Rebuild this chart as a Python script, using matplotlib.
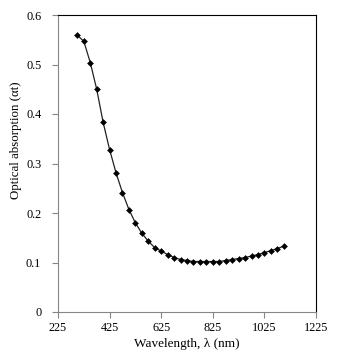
import matplotlib
matplotlib.use('Agg')
import matplotlib.pyplot as plt

# wavelength (nm) and optical absorption (alpha*t)
wavelength = [300, 325, 350, 375, 400, 425, 450, 475, 500, 525, 550, 575,
              600, 625, 650, 675, 700, 725, 750, 775, 800, 825, 850, 875,
              900, 925, 950, 975, 1000, 1025, 1050, 1075, 1100]
absorption = [0.559, 0.547, 0.504, 0.450, 0.383, 0.328, 0.281, 0.241,
              0.207, 0.180, 0.159, 0.143, 0.130, 0.123, 0.116, 0.110,
              0.106, 0.104, 0.102, 0.102, 0.102, 0.102, 0.102, 0.104,
              0.106, 0.108, 0.110, 0.113, 0.116, 0.120, 0.124, 0.128, 0.133]

x_ticks = [225, 425, 625, 825, 1025, 1225]
y_ticks = [0, 0.1, 0.2, 0.3, 0.4, 0.5, 0.6]
y_labels = ['0', '0.1', '0.2', '0.3', '0.4', '0.5', '0.6']

plt.rcParams['font.family'] = ['Liberation Serif', 'DejaVu Serif']
plt.rcParams['font.size'] = 8.8

fig = plt.figure(figsize=(3.38, 3.58), dpi=100)
ax = fig.add_axes([58 / 338, 1 - 312 / 358, 258 / 338, 297 / 358])

ax.plot(wavelength, absorption, color='#222222', lw=0.9,
        marker='D', markersize=3.0, markerfacecolor='black',
        markeredgecolor='black', markeredgewidth=0.4)

ax.set_xlim(225, 1225)
ax.set_ylim(0, 0.6)
ax.set_xticks(x_ticks)
ax.set_yticks(y_ticks)
ax.set_yticklabels(y_labels)
ax.tick_params(direction='out', length=4, width=0.8, color='#868686')
ax.tick_params(axis='y', pad=8)
ax.tick_params(axis='x', pad=3)
for side in ['left', 'bottom']:
    ax.spines[side].set_color('#868686')
for s in ax.spines.values():
    s.set_linewidth(0.8)

ax.set_xlabel('Wavelength, λ (nm)', fontsize=9.5, labelpad=3)
ax.set_ylabel('Optical absorption (αt)', fontsize=9.3)
# label sits a bit above the axis middle in the original
ax.yaxis.set_label_coords(-0.138, 0.58)

fig.savefig('out.png', dpi=100)
